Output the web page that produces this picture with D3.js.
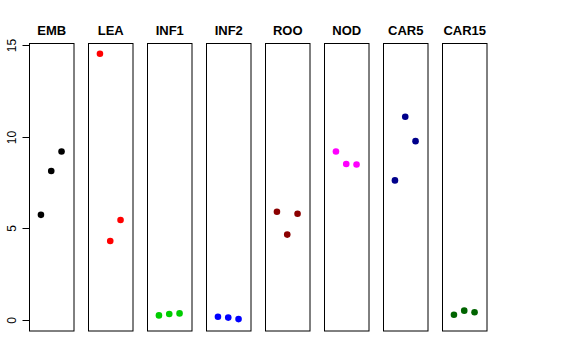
<!DOCTYPE html>
<html><head><meta charset="utf-8">
<script src="https://cdn.jsdelivr.net/npm/d3@7"></script>
<style>body{margin:0;background:#fff}svg{display:block}</style>
</head><body>
<script>
const categories = ["EMB","LEA","INF1","INF2","ROO","NOD","CAR5","CAR15"];
const colors = ["#000000","#FF0000","#00CD00","#0000FF","#8B0000","#FF00FF","#00008B","#006400"];
const valuesEMB = [5.74, 8.13, 9.2];
const valuesLEA = [14.53, 4.31, 5.46];
const valuesINF1 = [0.25, 0.33, 0.36];
const valuesINF2 = [0.18, 0.13, 0.05];
const valuesROO = [5.91, 4.66, 5.80];
const valuesNOD = [9.2, 8.51, 8.49];
const valuesCAR5 = [7.62, 11.09, 9.76];
const valuesCAR15 = [0.29, 0.51, 0.42];
const yTicks = [0, 5, 10, 15];
const series = [valuesEMB, valuesLEA, valuesINF1, valuesINF2, valuesROO, valuesNOD, valuesCAR5, valuesCAR15];

const W = 576, H = 360;
const svg = d3.select("body").append("svg").attr("width", W).attr("height", H);

const panelLeft0 = 29, panelStep = 59, panelW = 44.5, pTop = 43.5, pBottom = 331;
const y = d3.scaleLinear().domain([-0.6, 15.09]).range([pBottom, pTop]);
const x = d3.scaleLinear().domain([1 - 1.16, 3 + 1.16]).range([0, panelW]);
const font = "Liberation Sans, Arial, sans-serif";

series.forEach((vals, i) => {
  const g = svg.append("g").attr("transform", `translate(${panelLeft0 + panelStep * i},0)`);
  g.append("rect").attr("x", 0.5).attr("y", pTop).attr("width", panelW).attr("height", pBottom - pTop)
    .attr("fill", "none").attr("stroke", "#000").attr("stroke-width", 1);
  g.append("text").attr("x", panelW / 2 + 0.5).attr("y", 35).attr("text-anchor", "middle")
    .attr("font-family", font).attr("font-weight", "bold")
    .attr("font-size", 13).text(categories[i]);
  g.selectAll("circle").data(vals).enter().append("circle")
    .attr("cx", (d, j) => x(j + 1)).attr("cy", d => y(d)).attr("r", 3.3)
    .attr("fill", colors[i]);
});

const axis = d3.axisLeft(y).tickValues(yTicks).tickSize(7).tickPadding(4);
const ag = svg.append("g").attr("transform", `translate(${panelLeft0 + 0.5},0)`).call(axis);
ag.select(".domain").remove();
ag.selectAll(".tick").each(function(d) {
  const t = d3.select(this);
  t.attr("transform", `translate(0,${Math.round(y(d)) + 0.5})`);
  t.select("line").attr("stroke", "#000");
  t.select("text").attr("font-family", font).attr("font-size", 12).attr("fill", "#000")
    .attr("x", 0).attr("y", 0).attr("dy", "0.35em").attr("text-anchor", "middle")
    .attr("transform", "translate(-18,0) rotate(-90)");
});
svg.append("line").attr("x1", panelLeft0 + 0.5).attr("x2", panelLeft0 + 0.5)
  .attr("y1", y(0)).attr("y2", y(15)).attr("stroke", "#000");
</script>
</body></html>
